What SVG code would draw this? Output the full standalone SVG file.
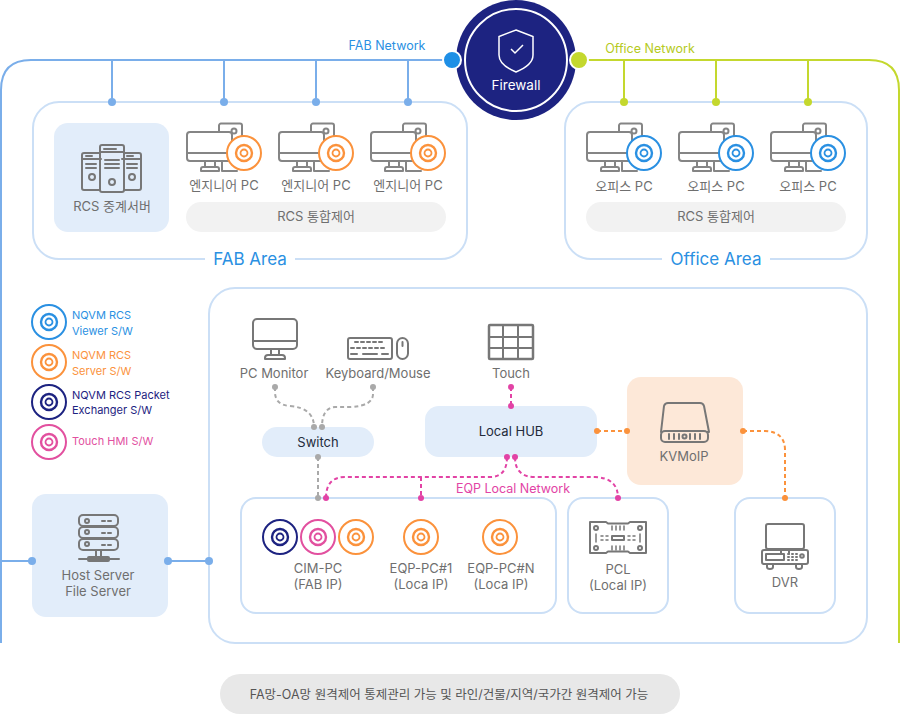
<svg xmlns="http://www.w3.org/2000/svg" width="900" height="714" viewBox="0 0 900 714">
<style>
text{font-family:"Inter","Noto Sans CJK KR","Noto Sans",sans-serif;text-anchor:middle;fill:#6f6f6f;font-size:13px}
.area{fill:#fff;stroke:#cbdff6;stroke-width:2}
.soft{fill:#e2edfa}
.ic{fill:none;stroke:#777;stroke-width:2;stroke-linejoin:round;stroke-linecap:round}
.blue{fill:none;stroke:#7aaeea;stroke-width:2}
.green{fill:none;stroke:#c4d82e;stroke-width:2}
.gd{fill:none;stroke:#a9a9a9;stroke-width:2;stroke-dasharray:4 3}
.pd{fill:none;stroke:#e243a5;stroke-width:2;stroke-dasharray:4 3}
.od{fill:none;stroke:#fb923c;stroke-width:2;stroke-dasharray:4 3}
.l{text-anchor:start;font-size:11px}
.dark{fill:#222b3a}
</style>
<defs>
<g id="disc"><circle r="17" fill="#fff" stroke-width="2"/><circle r="8" fill="none" stroke-width="2.400"/><circle r="3.500" fill="none" stroke-width="1.800"/></g>
<g id="pc" class="ic" style="stroke:#858585">
<path d="M32 8V1.500a2 2 0 0 1 2-2h19a2 2 0 0 1 2 2v18"/><circle cx="47" cy="7" r="2.500"/>
<rect x="0" y="8" width="45" height="29" rx="3" fill="#fff"/><path d="M0 29H45M18 37v6M28 37v6M14 47v-2q0-2 2-2H30q2 0 2 2v2Z"/><path d="M35 37V47H50"/>
</g>
<g id="srv" class="ic">
<rect x="0" y="9" width="19" height="37" rx="2"/><rect x="40" y="9" width="19" height="37" rx="2"/>
<rect x="18" y="1" width="24" height="47" rx="2" fill="#e2edfa"/>
<path d="M0 15H19M40 15H59M18 8H42M4 12h6M45 12h6M22 5h12M23 16H37M23 20H37M23 24H37M4 20h10M4 24h10M45 20h10M45 24h10"/>
<circle cx="10" cy="33" r="3"/><circle cx="50" cy="33" r="3"/><circle cx="30" cy="38" r="3"/>
</g>
</defs>
<rect width="900" height="714" fill="#fff"/>
<g id="connectors">
<path class="blue" d="M444 60H31Q1 60 1 90V643M112 60V102M224 60V102M316 60V102M408 60V102M0 561H32M168 561H209"/>
<path class="green" d="M587 60H869Q899 60 899 90V643M624 60V102M716 60V102M808 60V102"/>
</g>
<g id="fab-area">
<rect class="area" x="33" y="102" width="434" height="157" rx="26"/>
<rect x="205" y="248" width="90" height="22" fill="#fff"/>
<text x="250" y="265" style="font-size:17px;fill:#2a90e2">FAB Area</text>
<g fill="#7aaeea"><circle cx="112" cy="102" r="4"/><circle cx="224" cy="102" r="4"/><circle cx="316" cy="102" r="4"/><circle cx="408" cy="102" r="4"/></g>
</g>
<g id="rcs-relay"><rect class="soft" x="54" y="123" width="115" height="109" rx="14"/><use href="#srv" x="82" y="144"/><text x="112" y="211">RCS 중계서버</text></g>
<g id="eng-pc-1"><use href="#pc" x="187" y="124"/><use href="#disc" x="244" y="153" stroke="#fb923c"/><text x="224" y="190">엔지니어 PC</text></g>
<g id="eng-pc-2"><use href="#pc" x="279" y="124"/><use href="#disc" x="336" y="153" stroke="#fb923c"/><text x="316" y="190">엔지니어 PC</text></g>
<g id="eng-pc-3"><use href="#pc" x="371" y="124"/><use href="#disc" x="428" y="153" stroke="#fb923c"/><text x="408" y="190">엔지니어 PC</text></g>
<g id="fab-rcs"><rect x="186" y="202" width="260" height="30" rx="15" fill="#f2f2f2"/><text x="316" y="221">RCS 통합제어</text></g>
<g id="office-area">
<rect class="area" x="565" y="102" width="302" height="157" rx="26"/>
<rect x="662" y="248" width="108" height="22" fill="#fff"/>
<text x="716" y="265" style="font-size:17px;fill:#2a90e2">Office Area</text>
<g fill="#c4d82e"><circle cx="624" cy="102" r="4"/><circle cx="716" cy="102" r="4"/><circle cx="808" cy="102" r="4"/></g>
</g>
<g id="office-pc-1"><use href="#pc" x="587" y="124"/><use href="#disc" x="644" y="153" stroke="#2a90e2"/><text x="624" y="191">오피스 PC</text></g>
<g id="office-pc-2"><use href="#pc" x="679" y="124"/><use href="#disc" x="736" y="153" stroke="#2a90e2"/><text x="716" y="191">오피스 PC</text></g>
<g id="office-pc-3"><use href="#pc" x="771" y="124"/><use href="#disc" x="828" y="153" stroke="#2a90e2"/><text x="808" y="191">오피스 PC</text></g>
<g id="office-rcs"><rect x="586" y="202" width="260" height="30" rx="15" fill="#f2f2f2"/><text x="716" y="221">RCS 통합제어</text></g>
<g id="firewall">
<text x="387" y="50" style="font-size:12.500px;fill:#2a90e2">FAB Network</text>
<text x="650" y="53" style="font-size:12.500px;fill:#b5ca22">Office Network</text>
<circle cx="516" cy="60" r="60" fill="#1d2381"/><circle cx="516" cy="60" r="51" fill="none" stroke="#fff" stroke-width="2"/>
<path d="M516 30l17 6.500V55q0 10-17 17q-17-7-17-17V36.500Z" fill="none" stroke="#fff" stroke-width="1.500"/>
<path d="M511 49l4 4 8-8" fill="none" stroke="#fff" stroke-width="1.500"/>
<text x="516" y="90" style="font-size:13.500px;fill:#fff">Firewall</text>
<circle cx="452" cy="60" r="9" fill="#1e8fe6" stroke="#fff" stroke-width="2"/>
<circle cx="579" cy="60" r="9" fill="#c4d82e" stroke="#fff" stroke-width="2"/>
</g>
<g id="legend">
<use href="#disc" x="49" y="322" stroke="#2a90e2"/><text class="l" x="72" y="319" style="fill:#2a90e2">NQVM RCS</text><text class="l" x="72" y="335" style="fill:#2a90e2">Viewer S/W</text>
<use href="#disc" x="49" y="362" stroke="#fb923c"/><text class="l" x="72" y="359" style="fill:#fb923c">NQVM RCS</text><text class="l" x="72" y="375" style="fill:#fb923c">Server S/W</text>
<use href="#disc" x="49" y="402" stroke="#1d2381"/><text class="l" x="72" y="399" style="fill:#1d2381">NQVM RCS Packet</text><text class="l" x="72" y="414" style="fill:#1d2381">Exchanger S/W</text>
<use href="#disc" x="49" y="442" stroke="#e2509f"/><text class="l" x="72" y="445" style="fill:#e2509f">Touch HMI S/W</text>
</g>
<g id="main-area"><rect class="area" x="209" y="288" width="658" height="355" rx="26"/></g>
<g id="host-server"><rect class="soft" x="32" y="494" width="136" height="123" rx="14"/>
<g class="ic"><rect x="79" y="515" width="39" height="11" rx="4"/><rect x="79" y="527" width="39" height="11" rx="4"/><rect x="79" y="539" width="39" height="11" rx="4"/><circle cx="87" cy="521" r="2"/><circle cx="87" cy="532" r="2"/><circle cx="87" cy="544" r="2"/><path d="M102 521h3M108 521h3M102 533h3M108 533h3M102 545h3M108 545h3M96 550v8M101 550v8M79 559H119"/><rect x="88" y="557" width="21" height="4" rx="1"/></g>
<text x="98" y="580">Host Server</text><text x="98" y="596">File Server</text></g>
<g id="host-dots" fill="#7aaeea"><circle cx="32" cy="561" r="4"/><circle cx="168" cy="561" r="4"/><circle cx="209" cy="561" r="4"/></g>
<g id="pc-monitor"><g class="ic"><rect x="253" y="319" width="44" height="30" rx="4"/><path d="M253 341H297M271 349v6M279 349v6M268 355H282Q285 355 285 358V359H265V358Q265 355 268 355Z"/></g><text x="274" y="378">PC Monitor</text></g>
<g id="keyboard"><g class="ic"><rect x="348" y="338" width="44" height="21" rx="2"/><rect x="397" y="338" width="11" height="21" rx="5.500"/><path d="M402.500 342v4M355 342h3M361 342h3M367 342h3M373 342h3M379 342h3M351 348h3M357 348h3M363 348h3M369 348h3M375 348h3M381 348h3M351 354h6M363 354h14M382 354h6"/></g><text x="378" y="378">Keyboard/Mouse</text></g>
<g id="touch"><g class="ic"><rect x="489" y="325" width="44" height="34" rx="1" stroke-width="2.500"/><path d="M489 337H533M489 348H533M503 325V359M518 325V359"/></g><text x="511" y="378">Touch</text></g>
<g id="switch"><rect class="soft" x="262" y="427" width="112" height="30" rx="15"/><text class="dark" x="318" y="447">Switch</text></g>
<g id="local-hub"><rect class="soft" x="425" y="406" width="172" height="51" rx="14"/><text class="dark" x="511" y="436">Local HUB</text></g>
<g id="kvm"><rect x="627" y="377" width="116" height="108" rx="14" fill="#fde8d8"/>
<g class="ic"><path d="M668 403H700Q703 403 704 406L709 432H661L664 406Q665 403 668 403Z"/><rect x="661" y="431" width="47" height="11" rx="4" fill="#fde8d8"/><path d="M669 434v5M674 434v5M679 434v5M690 434v5M695 434v5M700 434v5"/><circle cx="684.500" cy="436.500" r="2"/></g>
<text x="684" y="461">KVMoIP</text></g>
<g id="cim-box"><rect class="area" x="241" y="498" width="315" height="115" rx="15"/>
<use href="#disc" x="280" y="537" stroke="#1d2381"/><use href="#disc" x="318" y="537" stroke="#e2509f"/><use href="#disc" x="356" y="537" stroke="#fb923c"/>
<text x="318" y="573">CIM-PC</text><text x="318" y="589">(FAB IP)</text></g>
<g id="eqp-1"><use href="#disc" x="421" y="537" stroke="#fb923c"/><text x="421" y="573">EQP-PC#1</text><text x="421" y="589">(Loca IP)</text></g>
<g id="eqp-n"><use href="#disc" x="500" y="537" stroke="#fb923c"/><text x="501" y="573">EQP-PC#N</text><text x="501" y="589">(Loca IP)</text></g>
<g id="pcl"><rect class="area" x="568" y="498" width="100" height="115" rx="15"/>
<g class="ic"><path d="M590 522H606l2 1.500H628l2-1.500H646V553H630l-2-1.500H608l-2 1.500H590Z"/><circle cx="596" cy="528" r="2"/><circle cx="640" cy="528" r="2"/><circle cx="596" cy="548" r="2"/><circle cx="640" cy="548" r="2"/><rect x="612" y="536" width="12" height="4"/><path d="M596 534v8M640 534v8M601 536h2M601 540h2M606 536h2M606 540h2M628 536h2M628 540h2M633 536h2M633 540h2M612 526v4M616 526v4M620 526v4M624 526v4M612 546v4M616 546v4M620 546v4M624 546v4" stroke-width="1.500"/></g>
<text x="618" y="574">PCL</text><text x="618" y="590">(Local IP)</text></g>
<g id="dvr"><rect class="area" x="735" y="498" width="100" height="115" rx="15"/>
<g class="ic"><rect x="766" y="524" width="38" height="25" rx="2"/><path d="M781 549v5M789 549v5"/><rect x="762" y="550" width="46" height="14" rx="2"/><rect x="766" y="554" width="18" height="6"/><path d="M788 554h1M792 554h1M796 554h1M788 557h1M792 557h1M796 557h1M788 560h1M792 560h1M796 560h1"/><circle cx="802" cy="556" r="1.800"/><path d="M767 564v3q0 2 3 2t3-2v-3M796 564v3q0 2 3 2t3-2v-3"/></g>
<text x="785" y="587">DVR</text></g>
<g id="local-connectors">
<path class="gd" d="M275 387V392Q275 405 290 406Q314 408 314 427M373 387V394Q373 406 350 407H335Q322 408 322 427M318 457V498"/>
<path class="pd" d="M511 387V406M507 457Q507 477 490 477H345Q326 477 326 498M421 477V498M515 457Q515 477 535 477H595Q618 478 618 498"/>
<path class="od" d="M597 431H627M743 431H765Q785 432 785 450V498"/>
<g fill="#a9a9a9"><circle cx="275" cy="387" r="3"/><circle cx="373" cy="387" r="3"/><circle cx="314" cy="427" r="3"/><circle cx="322" cy="427" r="3"/><circle cx="318" cy="457" r="3"/><circle cx="318" cy="498" r="3"/></g>
<g fill="#e243a5"><circle cx="511" cy="387" r="3"/><circle cx="511" cy="406" r="3"/><circle cx="507" cy="457" r="3"/><circle cx="515" cy="457" r="3"/><circle cx="326" cy="498" r="3"/><circle cx="421" cy="498" r="3"/><circle cx="618" cy="498" r="3"/></g>
<g fill="#fb923c"><circle cx="597" cy="431" r="3"/><circle cx="627" cy="431" r="3"/><circle cx="743" cy="431" r="3"/><circle cx="785" cy="498" r="3"/></g>
<text x="513" y="493" style="font-size:12.500px;fill:#e243a5">EQP Local Network</text>
</g>
<g id="footer"><rect x="220" y="674" width="460" height="40" rx="20" fill="#e8e8e8"/><text x="449" y="699" style="font-size:12.500px;fill:#555">FA망-OA망 원격제어 통제관리 가능 및 라인/건물/지역/국가간 원격제어 가능</text></g>
</svg>
